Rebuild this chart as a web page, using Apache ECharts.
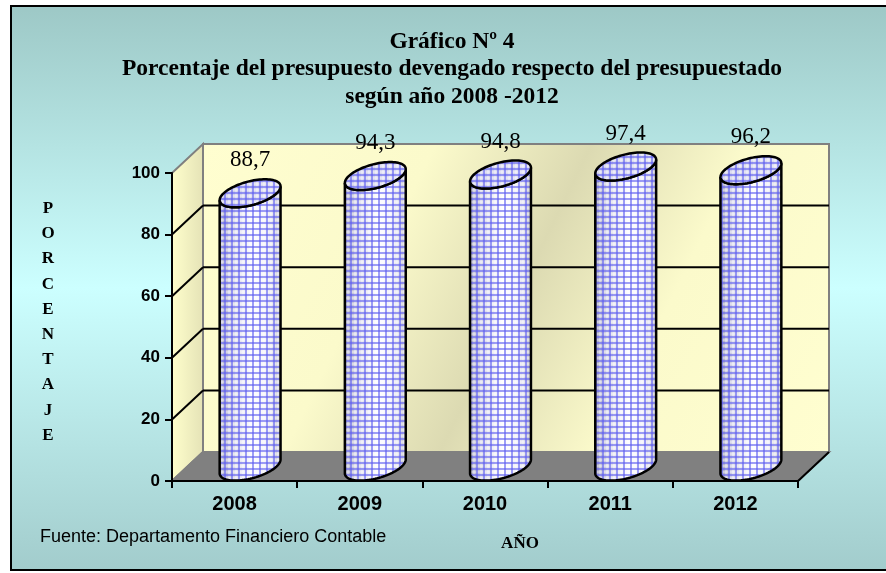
<!DOCTYPE html>
<html>
<head>
<meta charset="utf-8">
<script src="https://cdn.jsdelivr.net/npm/echarts@6/dist/echarts.min.js"></script>
<style>
html, body { margin: 0; padding: 0; background: #fff; }
#grafico { width: 886px; height: 573px; }
</style>
</head>
<body>
<div id="grafico"></div>
<script>
var anios = ['2008', '2009', '2010', '2011', '2012'];
var porcentajes = [88.7, 94.3, 94.8, 97.4, 96.2];
var marcasY = [0, 20, 40, 60, 80, 100];

// desplazamiento de profundidad del efecto 3D
var DX = 31, DY = -29;

// trama cuadriculada de los cilindros
function crearTrama() {
	var c = document.createElement('canvas');
	c.width = 7; c.height = 6;
	var ctx = c.getContext('2d');
	ctx.fillStyle = 'rgba(255,255,255,0.35)';
	ctx.fillRect(4, 0, 2, 6);
	ctx.fillRect(0, 3, 7, 2);
	ctx.fillStyle = 'rgba(95,95,240,0.6)';
	ctx.fillRect(0, 0, 2, 6);
	ctx.fillRect(0, 0, 7, 2);
	return c;
}
var trama = { image: crearTrama(), repeat: 'repeat' };

var myChart = echarts.init(document.getElementById('grafico'));

function dibujarMarco(params, api) {
	var catW = api.size([1, 0])[0];
	var xL = api.coord([0, 0])[0] - catW / 2;
	var xR = api.coord([anios.length - 1, 0])[0] + catW / 2;
	var y0 = api.coord([0, marcasY[0]])[1];
	var yT = api.coord([0, marcasY[marcasY.length - 1]])[1];
	var gris = '#808080';
	var hijos = [
		{
			type: 'polygon',
			shape: { points: [[xL + DX, yT + DY], [xR + DX, yT + DY], [xR + DX, y0 + DY], [xL + DX, y0 + DY]] },
			style: {
				fill: new echarts.graphic.LinearGradient(0, 0, 1, 1, [
					{ offset: 0, color: '#fffed0' },
					{ offset: 0.3, color: '#fbfacb' },
					{ offset: 0.5, color: '#dcdab2' },
					{ offset: 0.7, color: '#fbfacb' },
					{ offset: 1, color: '#fffed0' }
				]),
				stroke: gris, lineWidth: 2
			}
		},
		{
			type: 'polygon',
			shape: { points: [[xL, yT], [xL + DX, yT + DY], [xL + DX, y0 + DY], [xL, y0]] },
			style: {
				fill: new echarts.graphic.LinearGradient(0, 0, 1, 0, [
					{ offset: 0, color: '#ffffcc' },
					{ offset: 1, color: '#e4e2b6' }
				]),
				stroke: gris, lineWidth: 2
			}
		},
		{
			type: 'polygon',
			shape: { points: [[xL, y0], [xR, y0], [xR + DX, y0 + DY], [xL + DX, y0 + DY]] },
			style: { fill: '#808080', stroke: gris, lineWidth: 2 }
		},
		{
			type: 'line',
			shape: { x1: xR, y1: y0, x2: xR + DX, y2: y0 + DY },
			style: { stroke: '#000', lineWidth: 2 }
		}
	];
	marcasY.slice(1, -1).forEach(function (t) {
		var y = api.coord([0, t])[1];
		hijos.push({
			type: 'line',
			shape: { x1: xL + DX, y1: y + DY, x2: xR + DX, y2: y + DY },
			style: { stroke: '#000', lineWidth: 2 }
		});
		hijos.push({
			type: 'line',
			shape: { x1: xL, y1: y, x2: xL + DX, y2: y + DY },
			style: { stroke: '#000', lineWidth: 2 }
		});
	});
	return { type: 'group', children: hijos };
}

function dibujarCilindro(params, api) {
	var i = api.value(0), v = api.value(1);
	var arriba = api.coord([i, v]);
	var abajo = api.coord([i, 0]);
	var cx = arriba[0] + DX / 2;
	var cyT = arriba[1] + DY / 2;
	var cyB = abajo[1] + DY / 2;
	var A = 26.5, B = 20.5, ux = 0.731, uy = -0.684;
	function P(cy, t) {
		return [cx + A * Math.cos(t) + B * ux * Math.sin(t), cy + B * uy * Math.sin(t)];
	}
	var tt = Math.atan2(B * ux, A);
	var N = 48, k, lado = [], tapa = [];
	for (k = 0; k <= N; k++) lado.push(P(cyB, tt - Math.PI * k / N));
	for (k = 0; k <= N; k++) lado.push(P(cyT, tt - Math.PI + Math.PI * k / N));
	for (k = 0; k < 2 * N; k++) tapa.push(P(cyT, Math.PI * k / N));
	return {
		type: 'group',
		children: [
			{
				type: 'polygon', shape: { points: lado },
				style: {
					fill: new echarts.graphic.LinearGradient(0, 0, 1, 0, [
						{ offset: 0, color: '#a4a4c4' },
						{ offset: 0.2, color: '#d4d4e6' },
						{ offset: 0.55, color: '#ffffff' },
						{ offset: 0.8, color: '#ececf6' },
						{ offset: 1, color: '#c4c4d2' }
					])
				}
			},
			{
				type: 'polygon', shape: { points: lado },
				style: { fill: trama, stroke: '#000', lineWidth: 2.5 }
			},
			{
				type: 'polygon', shape: { points: tapa },
				style: {
					fill: new echarts.graphic.LinearGradient(0, 0, 1, 1, [
						{ offset: 0, color: '#c6c6e6' },
						{ offset: 1, color: '#e2e2f4' }
					])
				}
			},
			{
				type: 'polygon', shape: { points: tapa },
				style: { fill: trama, stroke: '#000', lineWidth: 2.5 }
			},
			{
				type: 'text',
				style: {
					text: v.toFixed(1).replace('.', ','),
					x: cx, y: cyT - 33,
					align: 'center', verticalAlign: 'middle',
					fontFamily: 'Liberation Serif', fontSize: 23, fill: '#000'
				}
			}
		]
	};
}

var option = {
	animation: false,
	title: {
		text: 'Gráfico Nº 4\nPorcentaje del presupuesto devengado respecto del presupuestado\nsegún año 2008 -2012',
		left: 452, top: 28, textAlign: 'center', padding: 0,
		textStyle: { fontFamily: 'Liberation Serif', fontWeight: 'bold', fontSize: 23.5, lineHeight: 27.5, color: '#000' }
	},
	graphic: [
		{
			type: 'rect', z: -100, silent: true,
			shape: { x: 11, y: 6, width: 890, height: 564 },
			style: {
				fill: new echarts.graphic.LinearGradient(0, 0, 0, 1, [
					{ offset: 0, color: '#9dc8c6' },
					{ offset: 0.5, color: '#ccffff' },
					{ offset: 1, color: '#a2cccc' }
				]),
				stroke: '#000', lineWidth: 2
			}
		},
		{
			type: 'text', x: 40, y: 537,
			style: { text: 'Fuente: Departamento Financiero Contable', verticalAlign: 'middle', fontFamily: 'Liberation Sans', fontSize: 18, fill: '#000' }
		},
		{
			type: 'text', x: 520, y: 544,
			style: { text: 'AÑO', align: 'center', verticalAlign: 'middle', fontFamily: 'Liberation Serif', fontWeight: 'bold', fontSize: 17, fill: '#000' }
		},
		{
			type: 'text', x: 48, y: 322,
			style: { text: 'PORCENTAJE'.split('').join('\n'), align: 'center', verticalAlign: 'middle', lineHeight: 25.2, fontFamily: 'Liberation Serif', fontWeight: 'bold', fontSize: 17, fill: '#000' }
		}
	],
	grid: { left: 172, right: 88, top: 173, bottom: 92 },
	xAxis: {
		type: 'category',
		data: anios,
		axisLine: { lineStyle: { color: '#000', width: 2 } },
		axisTick: { show: true, length: 7, lineStyle: { color: '#000', width: 2 } },
		axisLabel: { color: '#000', fontFamily: 'Liberation Sans', fontWeight: 'bold', fontSize: 20, margin: 13 },
		splitLine: { show: false }
	},
	yAxis: {
		type: 'value',
		min: 0, max: 100, interval: 20,
		axisLine: { show: true, lineStyle: { color: '#000', width: 2 } },
		axisTick: { show: true, length: 7, lineStyle: { color: '#000', width: 2 } },
		axisLabel: { color: '#000', fontFamily: 'Liberation Sans', fontWeight: 'bold', fontSize: 17, margin: 12 },
		splitLine: { show: false }
	},
	series: [
		{
			type: 'custom',
			name: 'marco',
			z: -1,
			silent: true,
			renderItem: dibujarMarco,
			data: [[0, 0]]
		},
		{
			type: 'custom',
			name: 'Porcentaje',
			z: 3,
			silent: true,
			renderItem: dibujarCilindro,
			data: anios.map(function (a, i) { return [i, porcentajes[i]]; })
		}
	]
};

myChart.setOption(option);
</script>
</body>
</html>
